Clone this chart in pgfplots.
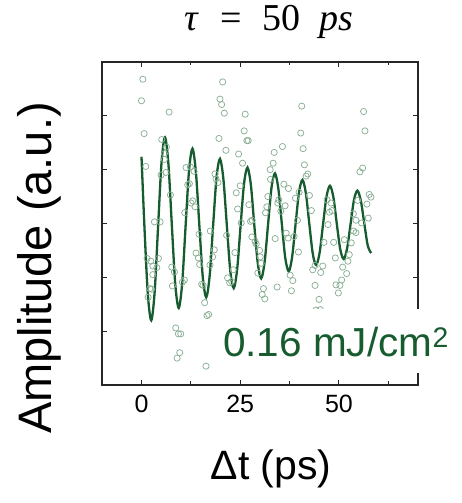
\documentclass[border=0pt]{standalone}
\usepackage{fontspec}
\setmainfont{Liberation Sans}
\newfontfamily\titlefont{Liberation Serif}
\usepackage{pgfplots}
\pgfplotsset{compat=1.18}
\definecolor{curvegreen}{RGB}{22,92,46}
\definecolor{dotgreen}{RGB}{138,176,148}
\begin{document}
\begin{tikzpicture}[x=1pt,y=1pt]
\useasboundingbox (-102,-118) rectangle (360,385);
\begin{axis}[
  at={(0,0)}, anchor=south west,
  scale only axis, width=316pt, height=323pt,
  xmin=-10, xmax=70, ymin=-3, ymax=3,
  xtick={0,25,50}, minor xtick={12.5,37.5,62.5},
  ytick={-2,-1,0,1,2}, yticklabels={},
  tick align=inside,
  major tick length=5pt, minor tick length=3.5pt,
  axis line style={line width=1.2pt, black!85},
  every tick/.append style={black!85, line width=1pt},
  xticklabel style={font=\fontsize{25}{25}\selectfont, yshift=-7pt},
  /pgf/number format/assume math mode=true,
]
\addplot[only marks, mark=o, mark size=3.1pt, mark options={draw=dotgreen, line width=0.75pt}] coordinates {
(0.34,2.68) (0.0,2.28) (6.99,2.07) (0.67,1.67) (1.09,1.06) (5.13,1.56) (6.31,1.42) (5.81,1.30) (5.81,1.19)
(4.97,0.90) (6.23,0.95) (7.32,0.53) (3.28,0.03) (4.71,0.03) (1.43,-0.65) (2.36,-0.70) (4.29,-0.65)
(3.87,-0.82) (2.86,-0.79) (2.86,-0.95) (2.10,-1.21) (2.53,-1.22) (1.68,-1.37)
(7.66,-0.81) (8.33,-0.90) (7.83,-1.16) (10.35,-1.09) (10.86,-1.05) (11.28,1.04) (12.37,1.05) (11.70,0.72)
(12.12,0.74) (13.30,0.97) (12.96,0.42) (13.55,0.31) (12.54,0.38) (10.94,0.20) (8.67,-1.94) (9.34,-2.05)
(9.93,-2.05) (9.68,-2.40) (9.01,-2.50)
(14.56,-0.20) (13.80,-0.55) (14.39,-0.64) (14.73,-0.76) (15.24,-1.13) (15.57,-1.15) (17.42,-0.14)
(18.43,-0.49) (18.01,-0.62) (17.34,-0.77) (15.99,-1.47) (16.58,-1.71) (17.00,-1.69) (16.33,-2.65)
(18.60,0.92) (18.86,0.83) (19.36,0.76)
(20.54,2.63) (19.87,2.31) (20.29,2.21) (20.96,2.05) (19.61,1.58) (21.38,1.36) (21.55,-0.22) (21.80,-1.01)
(22.31,-1.10) (22.81,-1.08) (23.23,-0.86) (23.65,-0.54) (24.58,1.29) (25.59,1.12) (23.99,0.57) (25.00,0.70)
(24.33,0.27) (25.25,0.01) (26.26,2.03) (26.01,1.72) (26.68,1.54) (27.02,1.54)
(27.19,0.35) (27.61,0.04) (28.03,0.06) (27.95,-0.25) (28.79,-0.34) (29.04,-0.38) (29.46,-0.92) (30.05,-0.62)
(30.30,-0.74) (29.88,-0.50) (30.89,-1.21) (30.56,-1.32) (31.23,-1.40) (31.99,0.50) (31.73,0.31) (31.40,0.20)
(32.58,1.00) (32.66,0.82) (33.33,1.12) (33.59,1.32) (33.84,-0.28) (34.34,-1.18)
(35.69,1.43) (36.03,0.73) (37.21,0.65) (34.76,0.44) (34.51,0.38) (35.27,0.23) (36.36,0.33) (36.62,-0.18)
(37.12,-0.27) (38.64,-0.24) (39.48,0.06) (39.73,-0.53) (37.63,-0.96) (38.30,-1.06) (37.96,-1.25)
(40.57,2.18) (40.32,1.68) (40.91,1.39) (41.25,1.09) (41.67,0.88) (42.09,0.92) (38.97,0.47) (39.90,0.58)
(42.51,0.52)
(43.01,0.24) (43.35,-0.86) (43.94,-0.78) (45.37,-0.91) (45.88,-0.79) (43.94,-1.15) (44.95,-1.41)
(44.19,-1.61) (45.29,-1.60) (46.21,-0.35) (46.97,0.44) (47.22,-0.02) (47.56,0.21) (47.98,0.38) (48.23,0.24)
(48.65,-0.35) (49.07,-0.64) (49.24,-1.14) (49.83,-1.29) (50.25,-1.15) (50.67,-1.05) (50.93,-0.81) (51.35,-0.30)
(51.94,-0.93) (52.27,-0.70) (52.61,-0.58) (53.11,-0.36) (53.62,0.18) (54.29,0.06) (54.71,0.43) (53.70,-0.14)
(54.29,-0.17) (55.30,0.96) (55.98,1.03) (56.23,2.08) (56.57,1.72) (55.72,0.01) (57.07,0.36) (57.66,0.54)
(58.08,0.49) (57.41,0.10)
};
\addplot[smooth, curvegreen, line width=2.3pt] coordinates {
(0,1.24) (0.73,-0.04) (1.60,-1.31) (2.47,-1.80) (3.34,-1.26) (4.21,-0.04) (5.08,1.14) (5.95,1.60)
(6.82,1.10) (7.69,-0.04) (8.56,-1.14) (9.43,-1.57) (10.30,-1.11) (11.17,-0.04) (12.04,0.99) (12.91,1.39)
(13.78,0.95) (14.65,-0.04) (15.52,-1.00) (16.39,-1.37) (17.26,-0.97) (18.13,-0.04) (19.00,0.86) (19.87,1.20)
(20.74,0.82) (21.61,-0.04) (22.48,-0.88) (23.35,-1.20) (24.22,-0.85) (25.09,-0.04) (25.96,0.74) (26.83,1.04)
(27.70,0.71) (28.57,-0.04) (29.44,-0.74) (30.31,-1.02) (31.18,-0.71) (32.05,-0.01) (32.92,0.67) (33.79,0.93)
(34.66,0.64) (35.53,-0.01) (36.40,-0.64) (37.27,-0.89) (38.14,-0.62) (39.01,-0.01) (39.88,0.58) (40.75,0.81)
(41.62,0.56) (42.49,-0.01) (43.36,-0.56) (44.23,-0.77) (45.10,-0.54) (45.97,-0.01) (46.84,0.50) (47.71,0.70)
(48.58,0.49) (49.45,-0.01) (50.32,-0.48) (51.19,-0.66) (52.06,-0.46) (52.93,-0.01) (53.80,0.44) (54.67,0.61)
(55.54,0.42) (56.41,0.00) (57.28,-0.41) (58.15,-0.55)
};
\end{axis}
\node[fill=white, inner sep=0pt, minimum height=64pt, minimum width=245pt, anchor=north west] at (113,76) {};
\node[anchor=base west, inner sep=0pt, text=curvegreen, font=\fontsize{40.5}{40}\selectfont] at (121,28) {0.16 mJ/cm\textsuperscript{2}};
\node[anchor=base, inner sep=0pt, font=\fontsize{38}{38}\selectfont\titlefont] at (167,354) {\textit{τ}\hspace{0.55em}=\hspace{0.55em}50\hspace{0.5em}\textit{ps}};
\node[anchor=base, font=\fontsize{41}{41}\selectfont] at (169,-94) {Δt (ps)};
\node[anchor=base, rotate=90, font=\fontsize{47}{47}\selectfont] at (-50,117) {Amplitude (a.u.)};
\end{tikzpicture}
\end{document}
